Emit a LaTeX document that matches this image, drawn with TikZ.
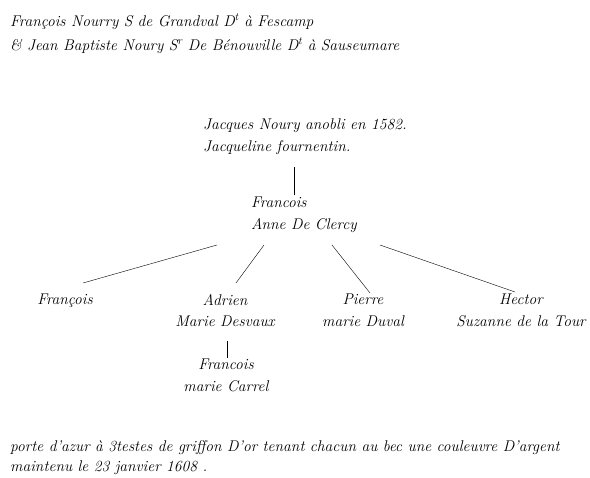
\documentclass[tikz,border=0pt]{standalone}
\usetikzlibrary{calc}

\begin{document}
\begin{tikzpicture}[x=1pt,y=-1pt,
    txt/.style={inner sep=0pt,font=\fontsize{15.5}{21.5}\selectfont\itshape},
    lft/.style={txt,align=left,anchor=north west},
    ctr/.style={txt,align=center,anchor=north}]
  \useasboundingbox (0,0) rectangle (590,478);

  \node[lft,font=\fontsize{15.5}{24}\selectfont\itshape] (head) at (10,14) {François Nourry S de Grandval D\textsuperscript{t} à Fescamp\\
    \& Jean Baptiste Noury S\textsuperscript{r} De Bénouville D\textsuperscript{t} à Sauseumare};

  \node[lft] (jacques) at (203,119) {Jacques Noury anobli en 1582.\\Jacqueline fournentin.};
  \node[lft] (anne) at (251,197) {Francois\\Anne De Clercy};

  \node[txt] (francois) at (65,301) {François};
  \node[ctr] (adrien) at (225,294) {Adrien\\Marie Desvaux};
  \node[ctr] (pierre) at (363,294) {Pierre\\marie Duval};
  \node[ctr] (hector) at (521,294) {Hector\\Suzanne de la Tour};
  \node[ctr] (carrel) at (226,359) {Francois\\marie Carrel};

  \node[lft,font=\fontsize{15.5}{20}\selectfont\itshape] (armes) at (10,440) {porte d'azur à 3testes de griffon D'or tenant chacun au bec une couleuvre D'argent\\
    maintenu le 23 janvier 1608 .};

  % filiation
  \draw ($(jacques.north west)+(91,48)$) -- ($(anne.north west)+(43,-2)$);
  \draw ($(anne.north west)+(-34,48)$) -- ($(francois)+(18,-18)$);
  \draw ($(anne.north west)+(13,48)$) -- ($(adrien.north)+(11,-11)$);
  \draw ($(anne.north west)+(81,48)$) -- ($(pierre.north)+(7,-1)$);
  \draw ($(anne.north west)+(129,48)$) -- ($(hector.north)+(-6,-2)$);
  \draw ($(adrien.north)+(2,47)$) -- ($(carrel.north)+(1,-1)$);
\end{tikzpicture}
\end{document}
